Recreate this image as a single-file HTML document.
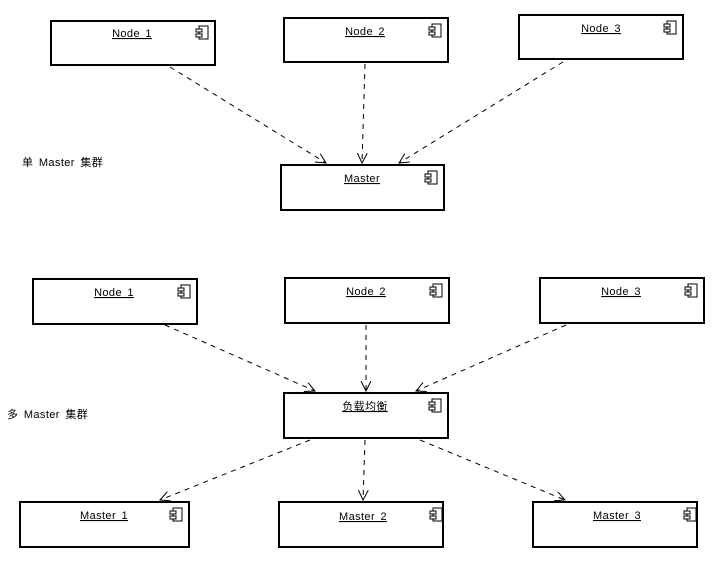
<!DOCTYPE html><html><head><style>body{margin:0;background:#fff}svg text{font-family:"Liberation Sans","Noto Sans CJK SC",sans-serif;font-size:11px;fill:#000;letter-spacing:0.4px;word-spacing:2px}</style></head><body>
<svg width="724" height="565" xmlns="http://www.w3.org/2000/svg">
<defs><marker id="a" markerWidth="12" markerHeight="12" refX="10" refY="5" orient="auto" markerUnits="userSpaceOnUse"><path d="M0,0 L10,5 L0,10" fill="none" stroke="#000" stroke-width="1"/></marker>
<g id="ic"><rect x="3" y="0" width="9" height="13" fill="#fff" stroke="#000"/><rect x="0" y="3" width="6" height="3" fill="#fff" stroke="#000"/><rect x="0" y="8" width="6" height="3" fill="#fff" stroke="#000"/></g></defs>
<g fill="#fff" stroke="#000" stroke-width="2">
<rect x="51" y="21" width="164" height="44"/><rect x="284" y="18" width="164" height="44"/><rect x="519" y="15" width="164" height="44"/><rect x="281" y="165" width="163" height="45"/>
<rect x="33" y="279" width="164" height="45"/><rect x="285" y="278" width="164" height="45"/><rect x="540" y="278" width="164" height="45"/><rect x="284" y="393" width="164" height="45"/>
<rect x="20" y="502" width="169" height="45"/><rect x="279" y="502" width="164" height="45"/><rect x="533" y="502" width="164" height="45"/></g>
<use href="#ic" x="196" y="26"/><use href="#ic" x="429" y="24"/><use href="#ic" x="664" y="21"/><use href="#ic" x="425" y="171"/>
<use href="#ic" x="178" y="285"/><use href="#ic" x="430" y="284"/><use href="#ic" x="685" y="284"/><use href="#ic" x="429" y="399"/>
<use href="#ic" x="170" y="508"/><use href="#ic" x="430" y="508"/><use href="#ic" x="684" y="508"/>
<g text-anchor="middle" text-decoration="underline">
<text x="132" y="37">Node 1</text><text x="365" y="35">Node 2</text><text x="601" y="32">Node 3</text><text x="362" y="182">Master</text>
<text x="114" y="296">Node 1</text><text x="366" y="295">Node 2</text><text x="621" y="295">Node 3</text><text x="365" y="410">负载均衡</text>
<text x="104" y="519">Master 1</text><text x="363" y="520">Master 2</text><text x="617" y="519">Master 3</text></g>
<text x="22" y="166">单 Master 集群</text><text x="7" y="418">多 Master 集群</text>
<g stroke="#000" stroke-dasharray="5,5" fill="none" marker-end="url(#a)">
<line x1="170" y1="67" x2="326" y2="163"/><line x1="365" y1="64" x2="362" y2="163"/><line x1="563" y1="62" x2="399" y2="163"/>
<line x1="165" y1="325" x2="315" y2="391"/><line x1="366" y1="325" x2="366" y2="391"/><line x1="566" y1="325" x2="416" y2="391"/>
<line x1="310" y1="440" x2="160" y2="500"/><line x1="365" y1="440" x2="363" y2="500"/><line x1="420" y1="440" x2="565" y2="500"/></g>
</svg></body></html>
